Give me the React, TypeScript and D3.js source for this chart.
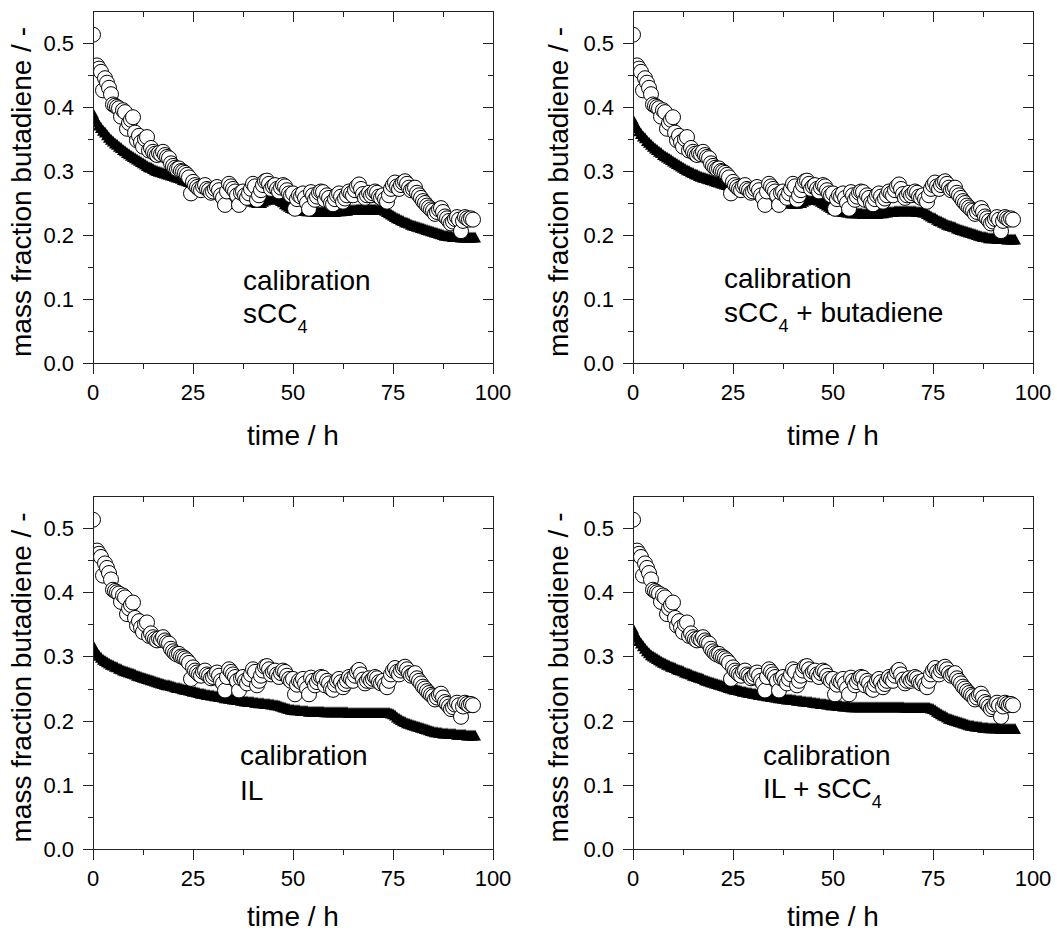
import React from 'react';
import * as d3 from 'd3';

// ---------- axis ticks ----------
const X_MAJOR = [0, 25, 50, 75, 100];
const X_MINOR = [12.5, 37.5, 62.5, 87.5];
const Y_MAJOR = [0, 0.1, 0.2, 0.3, 0.4, 0.5];
const Y_MINOR = [0.05, 0.15, 0.25, 0.35, 0.45];
const X_DOMAIN = [0, 100];
const Y_DOMAIN = [0, 0.55];

// ---------- data ----------
// sampling interval of the series (hours)
const STEP_H = 0.5;

// measured mass fraction (open circles): first point at t = 0, then every 0.5 h from t = 1.0
const measuredFirst = { t: 0, v: 0.513 };
const measuredStartH = 1.0;
const measured = [
  0.465, 0.460, 0.455, 0.426, 0.445, 0.438, 0.430, 0.420, 0.404, 0.402,
  0.400, 0.398, 0.385, 0.395, 0.392, 0.366, 0.375, 0.380, 0.384, 0.360,
  0.348, 0.355, 0.345, 0.338, 0.350, 0.353, 0.332, 0.336, 0.330, 0.327,
  0.325, 0.328, 0.326, 0.330, 0.325, 0.322, 0.320, 0.312, 0.308, 0.305,
  0.303, 0.304, 0.300, 0.299, 0.297, 0.294, 0.290, 0.265, 0.283, 0.278,
  0.275, 0.272, 0.270, 0.276, 0.278, 0.272, 0.270, 0.266, 0.268, 0.272,
  0.275, 0.270, 0.262, 0.258, 0.247, 0.268, 0.280, 0.276, 0.272, 0.268,
  0.262, 0.247, 0.266, 0.268, 0.262, 0.258, 0.265, 0.272, 0.280, 0.276,
  0.255, 0.262, 0.270, 0.278, 0.284, 0.285, 0.280, 0.272, 0.276, 0.278,
  0.272, 0.268, 0.274, 0.278, 0.276, 0.270, 0.265, 0.262, 0.265, 0.241,
  0.256, 0.262, 0.260, 0.265, 0.258, 0.250, 0.241, 0.267, 0.262, 0.255,
  0.260, 0.266, 0.268, 0.267, 0.255, 0.262, 0.258, 0.250, 0.248, 0.256,
  0.262, 0.265, 0.260, 0.252, 0.257, 0.262, 0.268, 0.265, 0.262, 0.270,
  0.276, 0.279, 0.272, 0.264, 0.258, 0.262, 0.266, 0.262, 0.265, 0.268,
  0.266, 0.260, 0.258, 0.262, 0.256, 0.252, 0.262, 0.272, 0.278, 0.282,
  0.276, 0.272, 0.278, 0.282, 0.284, 0.280, 0.274, 0.270, 0.272, 0.274,
  0.266, 0.262, 0.258, 0.253, 0.250, 0.246, 0.243, 0.240, 0.238, 0.233,
  0.236, 0.240, 0.242, 0.236, 0.229, 0.226, 0.222, 0.218, 0.221, 0.225,
  0.228, 0.224, 0.206, 0.222, 0.228, 0.226, 0.224, 0.226, 0.224,
];

// calculated mass fraction (filled triangles), every 0.5 h from t = 0
const calcSCC4 = [
  0.390, 0.382, 0.376, 0.371, 0.367, 0.363, 0.360, 0.356, 0.352, 0.349,
  0.346, 0.343, 0.341, 0.338, 0.336, 0.333, 0.331, 0.328, 0.326, 0.324,
  0.322, 0.320, 0.318, 0.316, 0.314, 0.312, 0.310, 0.308, 0.306, 0.305,
  0.303, 0.301, 0.300, 0.299, 0.298, 0.297, 0.296, 0.295, 0.294, 0.293,
  0.292, 0.291, 0.290, 0.289, 0.288, 0.286, 0.285, 0.284, 0.283, 0.282,
  0.281, 0.280, 0.279, 0.277, 0.276, 0.274, 0.273, 0.271, 0.270, 0.269,
  0.268, 0.267, 0.266, 0.265, 0.264, 0.263, 0.262, 0.261, 0.260, 0.259,
  0.258, 0.257, 0.256, 0.256, 0.255, 0.255, 0.254, 0.254, 0.253, 0.253,
  0.252, 0.251, 0.250, 0.250, 0.250, 0.252, 0.254, 0.255, 0.256, 0.257,
  0.257, 0.257, 0.256, 0.255, 0.253, 0.251, 0.248, 0.246, 0.244, 0.242,
  0.241, 0.240, 0.240, 0.239, 0.239, 0.238, 0.238, 0.237, 0.237, 0.237,
  0.237, 0.236, 0.236, 0.236, 0.236, 0.236, 0.236, 0.236, 0.236, 0.236,
  0.236, 0.236, 0.237, 0.237, 0.237, 0.238, 0.238, 0.238, 0.239, 0.239,
  0.239, 0.239, 0.240, 0.240, 0.240, 0.240, 0.240, 0.240, 0.240, 0.240,
  0.240, 0.240, 0.239, 0.239, 0.239, 0.239, 0.238, 0.236, 0.234, 0.232,
  0.230, 0.228, 0.226, 0.225, 0.223, 0.222, 0.220, 0.219, 0.218, 0.216,
  0.215, 0.214, 0.213, 0.212, 0.211, 0.210, 0.209, 0.208, 0.207, 0.206,
  0.205, 0.204, 0.203, 0.202, 0.201, 0.200, 0.199, 0.199, 0.198, 0.198,
  0.197, 0.197, 0.197, 0.197, 0.196, 0.196, 0.196, 0.196, 0.196, 0.196, 0.196, 0.196,
];

const calcSCC4Butadiene = [
  0.380, 0.373, 0.367, 0.362, 0.358, 0.354, 0.351, 0.347, 0.344, 0.341,
  0.338, 0.335, 0.333, 0.330, 0.328, 0.325, 0.323, 0.321, 0.319, 0.317,
  0.315, 0.313, 0.311, 0.309, 0.307, 0.305, 0.303, 0.301, 0.300, 0.298,
  0.297, 0.295, 0.294, 0.292, 0.291, 0.290, 0.289, 0.288, 0.287, 0.286,
  0.285, 0.284, 0.283, 0.282, 0.281, 0.280, 0.279, 0.278, 0.277, 0.276,
  0.275, 0.274, 0.273, 0.272, 0.271, 0.270, 0.269, 0.268, 0.267, 0.266,
  0.266, 0.265, 0.264, 0.263, 0.262, 0.261, 0.260, 0.259, 0.258, 0.257,
  0.256, 0.255, 0.254, 0.253, 0.252, 0.251, 0.251, 0.250, 0.250, 0.249,
  0.249, 0.249, 0.249, 0.250, 0.250, 0.252, 0.254, 0.255, 0.256, 0.256,
  0.256, 0.256, 0.255, 0.254, 0.252, 0.250, 0.248, 0.246, 0.244, 0.242,
  0.240, 0.239, 0.238, 0.237, 0.237, 0.236, 0.236, 0.235, 0.235, 0.234,
  0.234, 0.234, 0.234, 0.234, 0.234, 0.233, 0.233, 0.233, 0.233, 0.233,
  0.233, 0.233, 0.233, 0.234, 0.234, 0.234, 0.235, 0.235, 0.236, 0.236,
  0.236, 0.237, 0.237, 0.237, 0.237, 0.237, 0.237, 0.237, 0.237, 0.237,
  0.237, 0.237, 0.236, 0.236, 0.236, 0.235, 0.235, 0.233, 0.231, 0.229,
  0.227, 0.226, 0.224, 0.222, 0.221, 0.219, 0.218, 0.216, 0.215, 0.214,
  0.213, 0.212, 0.210, 0.209, 0.208, 0.207, 0.206, 0.205, 0.204, 0.203,
  0.202, 0.201, 0.200, 0.199, 0.198, 0.197, 0.197, 0.196, 0.195, 0.195,
  0.195, 0.195, 0.194, 0.194, 0.194, 0.194, 0.194, 0.193, 0.193, 0.193, 0.193, 0.193,
];

const calcIL = [
  0.317, 0.310, 0.305, 0.301, 0.298, 0.295, 0.293, 0.291, 0.289, 0.287,
  0.286, 0.284, 0.283, 0.281, 0.280, 0.278, 0.277, 0.276, 0.275, 0.274,
  0.273, 0.272, 0.270, 0.269, 0.268, 0.267, 0.266, 0.265, 0.264, 0.263,
  0.262, 0.261, 0.260, 0.259, 0.258, 0.257, 0.256, 0.255, 0.255, 0.254,
  0.253, 0.252, 0.251, 0.251, 0.250, 0.249, 0.248, 0.248, 0.247, 0.246,
  0.245, 0.245, 0.244, 0.243, 0.242, 0.242, 0.241, 0.240, 0.240, 0.239,
  0.239, 0.238, 0.238, 0.237, 0.237, 0.236, 0.235, 0.235, 0.234, 0.234,
  0.233, 0.233, 0.232, 0.232, 0.231, 0.231, 0.230, 0.230, 0.229, 0.229,
  0.229, 0.228, 0.228, 0.227, 0.227, 0.227, 0.226, 0.226, 0.226, 0.225,
  0.225, 0.224, 0.224, 0.223, 0.222, 0.221, 0.220, 0.219, 0.218, 0.217,
  0.217, 0.216, 0.216, 0.216, 0.215, 0.215, 0.215, 0.215, 0.214, 0.214,
  0.214, 0.214, 0.214, 0.214, 0.214, 0.214, 0.213, 0.213, 0.213, 0.213,
  0.213, 0.213, 0.213, 0.213, 0.213, 0.213, 0.213, 0.213, 0.212, 0.212,
  0.212, 0.212, 0.212, 0.212, 0.212, 0.212, 0.212, 0.212, 0.212, 0.212,
  0.212, 0.212, 0.212, 0.212, 0.212, 0.212, 0.212, 0.212, 0.212, 0.211,
  0.210, 0.208, 0.205, 0.203, 0.201, 0.199, 0.198, 0.196, 0.195, 0.194,
  0.193, 0.192, 0.191, 0.190, 0.189, 0.188, 0.187, 0.186, 0.185, 0.184,
  0.183, 0.182, 0.182, 0.181, 0.181, 0.180, 0.180, 0.180, 0.179, 0.179,
  0.179, 0.179, 0.178, 0.178, 0.178, 0.178, 0.178, 0.177, 0.177, 0.177, 0.177, 0.177,
];

const calcILSCC4 = [
  0.343, 0.335, 0.329, 0.324, 0.320, 0.316, 0.312, 0.308, 0.305, 0.302,
  0.300, 0.298, 0.296, 0.294, 0.292, 0.290, 0.289, 0.287, 0.286, 0.284,
  0.283, 0.282, 0.280, 0.279, 0.278, 0.277, 0.275, 0.274, 0.273, 0.272,
  0.270, 0.269, 0.268, 0.267, 0.266, 0.265, 0.263, 0.262, 0.261, 0.260,
  0.259, 0.258, 0.257, 0.256, 0.255, 0.254, 0.253, 0.252, 0.251, 0.250,
  0.249, 0.248, 0.248, 0.247, 0.246, 0.245, 0.245, 0.244, 0.243, 0.243,
  0.242, 0.242, 0.241, 0.240, 0.240, 0.239, 0.239, 0.238, 0.238, 0.237,
  0.237, 0.236, 0.236, 0.235, 0.235, 0.234, 0.234, 0.233, 0.233, 0.233,
  0.232, 0.232, 0.231, 0.231, 0.231, 0.230, 0.230, 0.229, 0.229, 0.229,
  0.228, 0.228, 0.227, 0.227, 0.226, 0.226, 0.226, 0.225, 0.225, 0.224,
  0.224, 0.224, 0.223, 0.223, 0.223, 0.222, 0.222, 0.222, 0.222, 0.221,
  0.221, 0.221, 0.221, 0.221, 0.221, 0.221, 0.221, 0.221, 0.221, 0.221,
  0.221, 0.221, 0.221, 0.221, 0.221, 0.221, 0.221, 0.221, 0.221, 0.221,
  0.221, 0.221, 0.221, 0.221, 0.221, 0.221, 0.220, 0.220, 0.220, 0.220,
  0.220, 0.220, 0.220, 0.220, 0.220, 0.220, 0.220, 0.220, 0.220, 0.219,
  0.218, 0.216, 0.214, 0.212, 0.210, 0.208, 0.207, 0.205, 0.203, 0.202,
  0.201, 0.200, 0.199, 0.198, 0.197, 0.196, 0.195, 0.194, 0.193, 0.192,
  0.192, 0.191, 0.191, 0.190, 0.190, 0.189, 0.189, 0.189, 0.188, 0.188,
  0.188, 0.188, 0.188, 0.188, 0.187, 0.187, 0.187, 0.187, 0.187, 0.187, 0.187, 0.187,
];

// panel labels
const LABEL_LINE1 = 'calibration';
const panelLabels = [
  { pre: 'sCC', sub: '4', post: '' },
  { pre: 'sCC', sub: '4', post: ' + butadiene' },
  { pre: 'IL', sub: '', post: '' },
  { pre: 'IL + sCC', sub: '4', post: '' },
];
const panelSeries = [calcSCC4, calcSCC4Butadiene, calcIL, calcILSCC4];

const X_TITLE = 'time / h';
const Y_TITLE = 'mass fraction butadiene / -';

// ---------- layout ----------
const W = 1057;
const H = 934;
const PW = 400;
const layout = [
  { x: 93, y: 11, h: 352, tx: 150, b1: 73, b2: 40, yl: 31, xt: 82 },
  { x: 633, y: 11, h: 352, tx: 91, b1: 75, b2: 41, yl: 568, xt: 82 },
  { x: 93, y: 496, h: 353, tx: 147, b1: 84, b2: 49, yl: 31, xt: 77 },
  { x: 633, y: 496, h: 353, tx: 130, b1: 84, b2: 51, yl: 568, xt: 77 },
];

const FONT = "Arial, 'Liberation Sans', Helvetica, sans-serif";
const TRI = 'M0,-6L6,5L-6,5Z';

function Panel({ idx }: { idx: number }) {
  const L = layout[idx];
  const left = L.x;
  const right = L.x + PW;
  const top = L.y;
  const bottom = L.y + L.h;
  const xs = d3.scaleLinear().domain(X_DOMAIN).range([left, right]);
  const ys = d3.scaleLinear().domain(Y_DOMAIN).range([bottom, top]);
  const calc = panelSeries[idx];
  const lab = panelLabels[idx];
  const clipId = `clip-${idx}`;
  const measuredPts = [
    measuredFirst,
    ...measured.map((v, i) => ({ t: measuredStartH + i * STEP_H, v })),
  ];
  const calcPts = calc.map((v, i) => ({ t: i * STEP_H, v }));
  const cx = (left + right) / 2;
  const cy = (top + bottom) / 2 + 5;
  const ax = (v: number) => Math.round(v) + 0.5;

  return (
    <g>
      <defs>
        <clipPath id={clipId}>
          <rect x={left} y={top} width={PW} height={L.h} />
        </clipPath>
      </defs>
      <g clipPath={`url(#${clipId})`}>
        {calcPts.map((p, i) => (
          <path key={'t' + i} d={TRI} transform={`translate(${xs(p.t)},${ys(p.v)})`} fill="#000" />
        ))}
        {measuredPts.map((p, i) => (
          <circle key={'c' + i} cx={xs(p.t)} cy={ys(p.v)} r={7.5} fill="#fff" stroke="#000" strokeWidth={1} />
        ))}
      </g>
      {/* frame */}
      <g stroke="#222" strokeWidth={1} fill="none">
        <line x1={ax(left)} x2={ax(left)} y1={top} y2={bottom} />
        <line x1={ax(right)} x2={ax(right)} y1={top} y2={bottom} />
        <line x1={left} x2={right} y1={ax(top)} y2={ax(top)} />
        <line x1={left} x2={right} y1={ax(bottom)} y2={ax(bottom)} />
        {X_MAJOR.map((t) => (
          <g key={'xm' + t}>
            <line x1={ax(xs(t))} x2={ax(xs(t))} y1={bottom} y2={bottom + 11} />
            <line x1={ax(xs(t))} x2={ax(xs(t))} y1={top} y2={top + 11} />
          </g>
        ))}
        {X_MINOR.map((t) => (
          <g key={'xn' + t}>
            <line x1={ax(xs(t))} x2={ax(xs(t))} y1={bottom} y2={bottom + 6} />
            <line x1={ax(xs(t))} x2={ax(xs(t))} y1={top} y2={top + 6} />
          </g>
        ))}
        {Y_MAJOR.map((v) => (
          <g key={'ym' + v}>
            <line x1={left - 10} x2={left} y1={ax(ys(v))} y2={ax(ys(v))} />
            <line x1={right - 10} x2={right} y1={ax(ys(v))} y2={ax(ys(v))} />
          </g>
        ))}
        {Y_MINOR.map((v) => (
          <g key={'yn' + v}>
            <line x1={left - 5} x2={left} y1={ax(ys(v))} y2={ax(ys(v))} />
            <line x1={right - 5} x2={right} y1={ax(ys(v))} y2={ax(ys(v))} />
          </g>
        ))}
      </g>
      {/* tick labels */}
      <g fontFamily={FONT} fontSize={22} fill="#000">
        {X_MAJOR.map((t) => (
          <text key={'xl' + t} x={xs(t)} y={bottom + 37} textAnchor="middle">
            {String(t)}
          </text>
        ))}
        {Y_MAJOR.map((v) => (
          <text key={'yl' + v} x={left - 19} y={ys(v)} dy="0.36em" textAnchor="end">
            {d3.format('.1f')(v)}
          </text>
        ))}
      </g>
      {/* axis titles */}
      <text x={cx} y={bottom + L.xt} textAnchor="middle" fontFamily={FONT} fontSize={28}>
        {X_TITLE}
      </text>
      <text
        transform={`translate(${L.yl},${cy}) rotate(-90)`}
        textAnchor="middle"
        fontFamily={FONT}
        fontSize={28}
      >
        {Y_TITLE}
      </text>
      {/* annotation */}
      <g fontFamily={FONT} fontSize={28} fill="#000">
        <text x={left + L.tx} y={bottom - L.b1}>{LABEL_LINE1}</text>
        <text x={left + L.tx} y={bottom - L.b2}>
          <tspan>{lab.pre}</tspan>
          {lab.sub ? (
            <tspan fontSize={18} dy={10}>{lab.sub}</tspan>
          ) : null}
          {lab.post ? <tspan dy={lab.sub ? -10 : 0}>{lab.post}</tspan> : null}
        </text>
      </g>
    </g>
  );
}

export default function App() {
  return (
    <svg
      width={W}
      height={H}
      viewBox={`0 0 ${W} ${H}`}
      style={{ position: 'absolute', left: 0, top: 0, background: '#fff', display: 'block' }}
    >
      <rect x={0} y={0} width={W} height={H} fill="#fff" />
      {layout.map((_, i) => (
        <Panel key={i} idx={i} />
      ))}
    </svg>
  );
}
